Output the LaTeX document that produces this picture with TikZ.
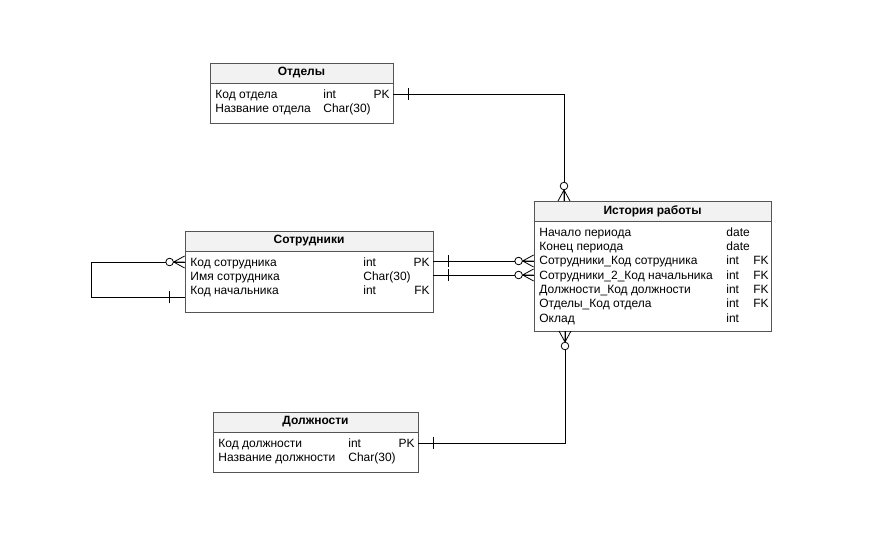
\documentclass[tikz,border=0pt]{standalone}
\usepackage{fontspec}
\setmainfont{Liberation Sans}
\usetikzlibrary{positioning}
\definecolor{hdrfill}{HTML}{F2F2F2}
\definecolor{tblline}{HTML}{555555}
\tikzset{
  every node/.style={font=\fontsize{12}{14}\selectfont},
  head/.style={draw=tblline, fill=hdrfill, minimum height=20, inner sep=0, font=\fontsize{12}{14}\selectfont\bfseries},
  body/.style={draw=tblline, fill=white, inner sep=0},
  fld/.style={anchor=west, inner sep=0, text height=9.5, text depth=1},
  one/.pic={\draw (15,-6) -- (15,6);},
  zmany/.pic={\draw (-11,0) -- (0,-6) (-11,0) -- (0,0) (-11,0) -- (0,6);
              \draw[fill=white] (-15,0) circle (3.8);}
}
\begin{document}
\begin{tikzpicture}[x=1pt, y=-1pt, line width=0.8pt]
  \useasboundingbox[fill=white] (0,0) rectangle (871,558);

  % tables
  \node[head, minimum width=183] (otdh) at (301.5,73) {Отделы};
  \node[body, minimum width=183, minimum height=40, below=0pt of otdh] (otdb) {};
  \foreach \n/\t/\k [count=\i from 0] in {Код отдела/int/PK, Название отдела/Char(30)/} {
    \node[fld] (otd\i) at (215,94+14*\i) {\n};
    \node[fld] at (323,94+14*\i) {\t};
    \node[fld, anchor=east] at (390,94+14*\i) {\k};
  }

  \node[head, minimum width=248] (soth) at (309,241) {Сотрудники};
  \node[body, minimum width=248, minimum height=61, below=0pt of soth] (sotb) {};
  \foreach \n/\t/\k [count=\i from 0] in {Код сотрудника/int/PK, Имя сотрудника/Char(30)/, Код начальника/int/FK} {
    \node[fld] (sot\i) at (190,262+14*\i) {\n};
    \node[fld] at (363,262+14*\i) {\t};
    \node[fld, anchor=east] at (430,262+14*\i) {\k};
  }

  \node[head, minimum width=237] (isth) at (652.5,211) {История работы};
  \node[body, minimum width=237, minimum height=110, below=0pt of isth] (istb) {};
  \foreach \n/\t/\k [count=\i from 0] in {Начало периода/date/, Конец периода/date/,
      Сотрудники\_Код сотрудника/int/FK, Сотрудники\_2\_Код начальника/int/FK,
      Должности\_Код должности/int/FK, Отделы\_Код отдела/int/FK, Оклад/int/} {
    \node[fld] (ist\i) at (539,232+14.3*\i) {\n};
    \node[fld] at (726,232+14.3*\i) {\t};
    \node[fld] at (753,232+14.3*\i) {\k};
  }

  \node[head, minimum width=205] (dolh) at (315.5,422) {Должности};
  \node[body, minimum width=205, minimum height=40, below=0pt of dolh] (dolb) {};
  \foreach \n/\t/\k [count=\i from 0] in {Код должности/int/PK, Название должности/Char(30)/} {
    \node[fld] (dol\i) at (218,443+14*\i) {\n};
    \node[fld] at (348,443+14*\i) {\t};
    \node[fld, anchor=east] at (415,443+14*\i) {\k};
  }

  % connector ends
  \coordinate (otdpk)  at (otdb.east |- otd0);
  \coordinate (isttop) at (564,201);
  \coordinate (sotpk)  at (sotb.east |- 0,261);
  \coordinate (sotnm)  at (sotb.east |- 0,275);
  \coordinate (istsot) at (istb.west |- 0,261);
  \coordinate (istnac) at (istb.west |- 0,275);
  \coordinate (sotin)  at (sotb.west |- 0,262);
  \coordinate (sotout) at (sotb.west |- 0,297);
  \coordinate (loop)   at (91,297);
  \coordinate (dolpk)  at (dolb.east |- dol0);
  \coordinate (istbot) at (565,331);

  % relations
  \draw (otdpk) -| (isttop);
  \pic at (otdpk) {one};
  \pic[rotate=-90] at (isttop) {zmany};

  \draw (sotpk) -- (istsot);
  \pic at (sotpk) {one};
  \pic at (istsot) {zmany};

  \draw (sotnm) -- (istnac);
  \pic at (sotnm) {one};
  \pic at (istnac) {zmany};

  \draw (sotin) -| (loop) -- (sotout);
  \pic at (sotin) {zmany};
  \pic[rotate=180] at (sotout) {one};

  \draw (dolpk) -| (istbot);
  \pic at (dolpk) {one};
  \pic[rotate=90] at (istbot) {zmany};
\end{tikzpicture}
\end{document}
